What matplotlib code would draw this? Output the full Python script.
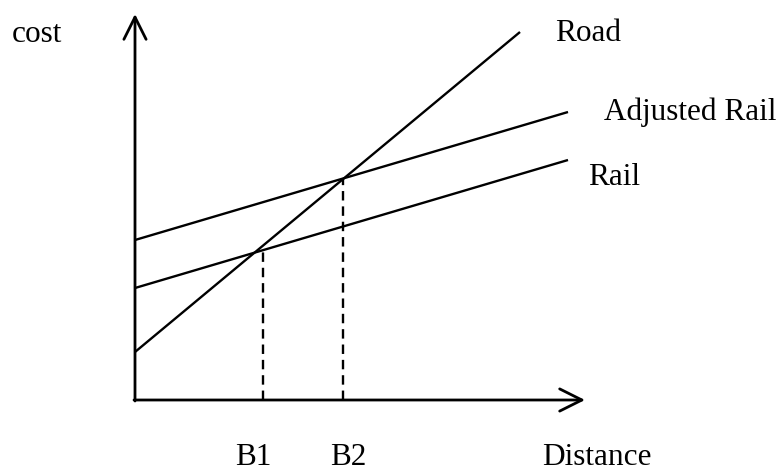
import numpy as np
import matplotlib
matplotlib.use("Agg")
import matplotlib.pyplot as plt

# cost lines: start and end (distance, cost)
line_names = ["Road", "Adjusted Rail", "Rail"]
start_cost = [48, 160, 112]
end_dist = [385, 433, 433]
end_cost = [368, 288, 240]

# break-even distances and which line each dashed marker meets
break_names = ["B1", "B2"]
break_dist = [128, 208]
break_line = [2, 1]

# label anchors (distance, cost)
line_label_pos = [(420, 359), (469, 280), (453, 215)]
break_label_x = [100, 195]

x_axis_end = 450
y_axis_end = 386

plt.rcParams['font.family'] = ['Liberation Serif', 'DejaVu Serif']

fig = plt.figure(figsize=(7.82, 4.74), dpi=100)
ax = fig.add_axes([0, 0, 1, 1])
ax.set_xlim(-135, 647)
ax.set_ylim(-74, 400)
ax.axis('off')

fs = 22.5
lw = 1.7

# axes with open arrow heads
arrow = dict(arrowstyle='->,head_length=0.8,head_width=0.4', lw=2,
             color='black', mutation_scale=20, shrinkA=0, shrinkB=0)
ax.annotate('', xy=(x_axis_end, 0), xytext=(-1, 0), arrowprops=arrow)
ax.annotate('', xy=(0, y_axis_end), xytext=(0, -1), arrowprops=arrow)

# cost lines
for i, name in enumerate(line_names):
    ax.plot([0, end_dist[i]], [start_cost[i], end_cost[i]],
            color='black', lw=lw, solid_capstyle='butt')
    ax.text(line_label_pos[i][0], line_label_pos[i][1], name,
            fontsize=fs, ha='left', va='baseline')

# dashed break-even markers
for i, name in enumerate(break_names):
    j = break_line[i]
    top = np.interp(break_dist[i], [0, end_dist[j]], [start_cost[j], end_cost[j]])
    ax.plot([break_dist[i], break_dist[i]], [0, top], color='black', lw=lw,
            linestyle=(0, (4, 2.5)))
    ax.text(break_label_x[i], -65, name, fontsize=fs, ha='left', va='baseline')

ax.text(-123, 358, "cost", fontsize=fs, ha='left', va='baseline')
ax.text(407, -65, "Distance", fontsize=fs, ha='left', va='baseline')

fig.savefig("out.png", dpi=100)
